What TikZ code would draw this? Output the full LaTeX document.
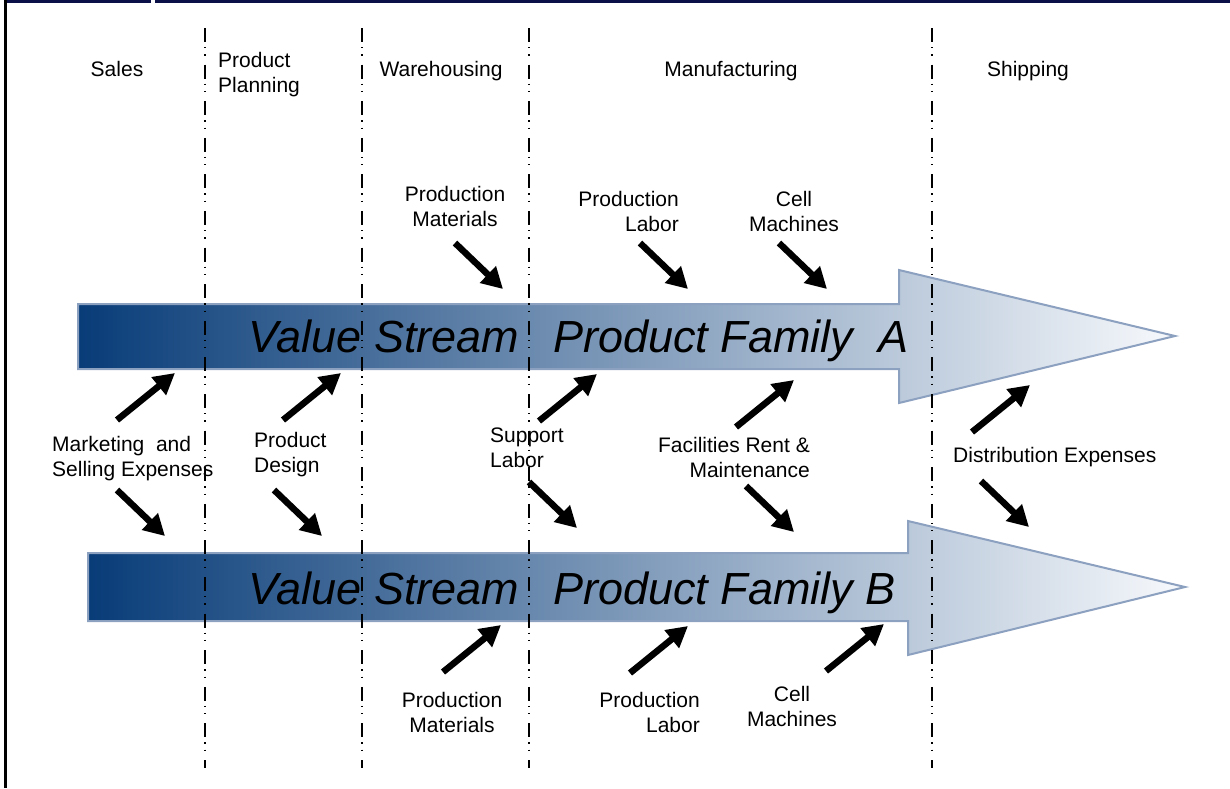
\documentclass[tikz,border=0pt]{standalone}
\usepackage{fontspec}
\setmainfont{Liberation Sans}
\usetikzlibrary{arrows.meta}
\definecolor{streamdark}{RGB}{8,60,120}
\definecolor{streamlight}{RGB}{247,249,252}
\definecolor{streamedge}{RGB}{140,160,192}
\definecolor{framenavy}{RGB}{12,16,72}
\tikzset{
    % stage headers and cost labels
    stage/.style={font=\fontsize{21}{25}\selectfont, inner sep=0pt, anchor=base},
    cost/.style={font=\fontsize{21}{25}\selectfont, inner sep=0pt},
    % big value stream arrows
    stream/.style={draw=streamedge, line width=2pt, left color=streamdark, right color=streamlight},
    vstext/.style={font=\fontsize{45}{54}\selectfont\itshape, inner sep=0pt, anchor=base west},
    % dash-dot-dot column dividers
    divider/.style={line width=1.3pt, dash pattern=on 14pt off 5pt on 1.3pt off 6pt on 1.3pt off 9pt},
    % fat black cost arrows
    push/.style={-{Triangle[length=21pt,width=22pt]}, line width=6.5pt},
}

\begin{document}
\begin{tikzpicture}[x=1pt,y=-1pt]
  \useasboundingbox (0,0) rectangle (1230,788);
  % frame
  \draw[line width=3pt,framenavy] (5,1.5) -- (151,1.5);
  \draw[line width=3pt,framenavy] (155,1.5) -- (1230,1.5);
  \draw[line width=2.5pt] (5.5,0) -- (5.5,788);

  % value streams
  \path[stream] (78,304) -- (899,304) -- (899,270) -- (1175,336) -- (899,403)
                -- (899,369) -- (78,369) -- cycle;
  \path[stream] (88,553) -- (908,553) -- (908,521) -- (1185,587) -- (908,655)
                -- (908,621) -- (88,621) -- cycle;
  \node[vstext] (vsA1) at (248,352) {Value Stream};
  \node[vstext] (vsA2) at (553,352) {Product Family\ \ A};
  \node[vstext] (vsB1) at (248,604) {Value Stream};
  \node[vstext] (vsB2) at (553,604) {Product Family B};

  % column dividers
  \foreach \x in {205,362,529,932}
    \draw[divider] (\x,28) -- (\x,768);

  % stages (base of a two-line node = its last line)
  \node[stage] (sales) at (117,76) {Sales};
  \node[stage,anchor=base west,align=left] (plan) at (218,92) {Product\\Planning};
  \node[stage] (ware) at (441,76) {Warehousing};
  \node[stage] (manu) at (731,76) {Manufacturing};
  \node[stage] (ship) at (1028,76) {Shipping};

  % cost labels
  \node[cost,anchor=base,align=center] (matA) at (455,226) {Production\\Materials};
  \node[cost,anchor=base east,align=right] (labA) at (679,231) {Production\\Labor};
  \node[cost,anchor=base,align=center] (cellA) at (794,231) {Cell\\Machines};
  \node[cost,anchor=base west,align=left] (mkt) at (52,476) {Marketing\ \ and\\Selling Expenses};
  \node[cost,anchor=base west,align=left] (dsg) at (254,472) {Product\\Design};
  \node[cost,anchor=base west,align=left] (sup) at (490,467) {Support\\Labor};
  \node[cost,anchor=base east,align=right] (fac) at (810,477) {Facilities Rent \&\\Maintenance};
  \node[cost,anchor=base west] (dist) at (953,462) {Distribution Expenses};
  \node[cost,anchor=base,align=center] (matB) at (452,732) {Production\\Materials};
  \node[cost,anchor=base east,align=right] (labB) at (700,732) {Production\\Labor};
  \node[cost,anchor=base,align=center] (cellB) at (792,726) {Cell\\Machines};

  % arrows into the streams
  \foreach \x/\y in {455/243,640/243,779/243,117/490,274/490,529/482,746/486,981/481}
    \draw[push] (\x,\y) -- ++(48,46);
  \foreach \x/\y in {117/420,283/420,539/421,736/427,972/432,443/672,630/673,826/671}
    \draw[push] (\x,\y) -- ++(58,-47);
\end{tikzpicture}
\end{document}
